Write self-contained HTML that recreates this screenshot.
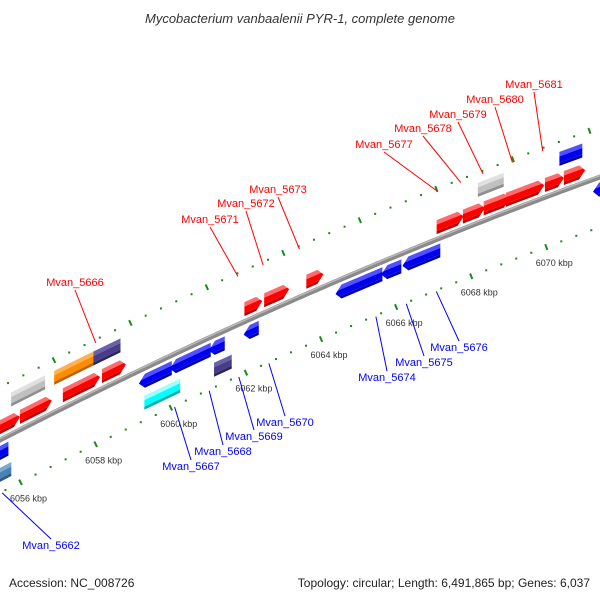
<!DOCTYPE html>
<html><head><meta charset="utf-8"><style>
html,body{margin:0;padding:0;background:#fff;}
svg{display:block;font-family:"Liberation Sans",sans-serif;}
</style></head><body>
<svg id="map" width="600" height="600" viewBox="0 0 600 600" xmlns="http://www.w3.org/2000/svg">
<text x="300" y="23" text-anchor="middle" font-size="13" font-style="italic" fill="#333">Mycobacterium vanbaalenii PYR-1, complete genome</text>
<text x="9" y="587" font-size="12" fill="#222">Accession: NC_008726</text>
<text x="590" y="587" text-anchor="end" font-size="12" fill="#222">Topology: circular; Length: 6,491,865 bp; Genes: 6,037</text>
<g id="ticks"></g><g id="backbone"></g><g id="genes"></g><g id="labels"></g>
</svg>
<script>
// gene data (kbp)
const geneStart = [6055.3,6056.69,6057.82,6058.85,6062.60,6063.12,6064.23,6067.66,6068.35,6068.90,6069.48,6070.51,6071.01,
  6056.69,6057.82,6058.85,6068.93,6071.07,
  6055.3,6059.56,6060.38,6061.41,6062.33,6064.76,6065.97,6066.53,6071.57,
  6055.2,6059.48,6061.33];
const geneEnd = [6056.69,6057.53,6058.80,6059.48,6063.07,6063.78,6064.68,6068.37,6068.93,6069.59,6070.49,6071.01,6071.57,
  6057.58,6058.88,6059.56,6069.61,6071.67,
  6056.11,6060.43,6061.46,6061.83,6062.73,6066.00,6066.50,6067.53,6072.3,
  6055.95,6060.43,6061.80];
const geneLane = [1,1,1,1,1,1,1,1,1,1,1,1,1, 2,2,2,2,2, -1,-1,-1,-1,-1,-1,-1,-1,-1, -2,-2,-2];
const geneKind = ['fwd','fwd','fwd','fwd','fwd','fwd','fwd','fwd','fwd','fwd','fwd','fwd','fwd',
  'gray','orange','purple','gray','bluebox',
  'rev','rev','rev','rev','rev','rev','rev','rev','rev',
  'steel','cyan','purple'];
const tickMajor = [6054,6056,6058,6060,6062,6064,6066,6068,6070,6072];
const tickLabels = ['6054 kbp','6056 kbp','6058 kbp','6060 kbp','6062 kbp','6064 kbp','6066 kbp','6068 kbp','6070 kbp','6072 kbp'];
const labelNames = ['Mvan_5666','Mvan_5671','Mvan_5672','Mvan_5673','Mvan_5677','Mvan_5678','Mvan_5679','Mvan_5680','Mvan_5681',
  'Mvan_5662','Mvan_5667','Mvan_5668','Mvan_5669','Mvan_5670','Mvan_5674','Mvan_5675','Mvan_5676'];
const labelPos = [6059.06,6062.78,6063.44,6064.39,6068.01,6068.61,6069.19,6069.96,6070.75,
  6055.5,6060.09,6061.01,6061.80,6062.60,6065.45,6066.26,6067.06];
const labelStrand = [1,1,1,1,1,1,1,1,1,-1,-1,-1,-1,-1,-1,-1,-1];
const labelTextX = [75,210,246,278,384,423,458,495,534, 51,191,223,254,285,387,424,459];
const labelTextY = [286,223,207,193,148,132,118,103,88, 549,470,455,440,426,381,366,351];

const colors = {fwd:['#ff6a6a','#ff0000','#c00000'],rev:['#5050ff','#0000f0','#0000a8'],
  gray:['#e0e0e0','#c0c0c0','#8f8f8f'],orange:['#ffb050','#ff8c00','#c06000'],
  purple:['#6a62a8','#483d8b','#2c255a'],bluebox:['#5050ff','#0000f0','#0000a8'],
  steel:['#7aa8d4','#4682b4','#2c5a80'],cyan:['#9fffff','#00ffff','#00b0b0']};
const NS='http://www.w3.org/2000/svg';
function bxOf(p){return -1+(p-6056)*37.9;}
function pt(p,d){const x=bxOf(p);const y=440-0.515*x+0.0001278*x*x;const dy=-0.515+2*0.0001278*x;const n=Math.hypot(1,dy);return [x+(-dy/n)*d,y+(1/n)*d];}
function mk(tag,attrs,parent){const e=document.createElementNS(NS,tag);for(const k in attrs)e.setAttribute(k,attrs[k]);parent.appendChild(e);return e;}
// backbone
const bb=document.getElementById('backbone');
let pts=[],pts2=[];
for(let p=6054.5;p<=6072.5;p+=0.1){pts.push(pt(p,0).join(','));pts2.push(pt(p,-1.3).join(','));}
const bl=mk('polyline',{points:pts.join(' '),fill:'none',stroke:'#8a8a8a','stroke-width':5},bb);


const bl2=mk('polyline',{points:pts2.join(' '),fill:'none',stroke:'#b8b8b8','stroke-width':1.5},bb);


// ticks
const tg=document.getElementById('ticks');
for(let i=0;i<tickMajor.length;i++){
  for(const d of [47,-47]){
    const a=pt(tickMajor[i],d-3),b=pt(tickMajor[i],d+3);
    const t=mk('line',{x1:a[0],y1:a[1],x2:b[0],y2:b[1],stroke:'#178a17','stroke-width':2},tg);
    
    
    if(i<tickMajor.length-1){for(let k=1;k<5;k++){const c=pt(tickMajor[i]+k*0.4,d);
      const m=mk('rect',{x:c[0]-1,y:c[1]-1,width:2,height:2,fill:'#178a17'},tg);
      
      }}
  }
  const c=pt(tickMajor[i],47);
  const tl=mk('text',{x:c[0]+8,y:c[1]+19,'text-anchor':'middle','font-size':9,fill:'#333'},tg);
  tl.textContent=tickLabels[i];
  
  
}
// genes: centre line follows normal offset, ends vertical, bevel bands
const gg=document.getElementById('genes');
const H=14, HH=H/2, A=6/37.9;
for(let i=0;i<geneStart.length;i++){
  const lane=geneLane[i];const d=lane===1?-11.5:lane===2?-31:lane===-1?11.5:31;
  const s=geneStart[i],e=geneEnd[i],k=geneKind[i],c=colors[k];
  const len=e-s, a=Math.min(A,len);
  const P=(p,v)=>{const q=pt(p,d);return [q[0],q[1]+v];};
  // boundary position at vertical offset v
  const rightAt=v=>k==='fwd'?e-a*Math.abs(v)/HH:e;
  const leftAt=v=>k==='rev'?s+a*Math.abs(v)/HH:s;
  const band=(v1,v2)=>{const vs=[v1];if(v1<0&&v2>0)vs.push(0);vs.push(v2);
    const r=vs.map(v=>P(rightAt(v),v));const l=vs.slice().reverse().map(v=>P(leftAt(v),v));
    return r.concat(l).map(q=>q.join(',')).join(' ');};
  const g=mk('g',{},gg);
  
  
  mk('polygon',{points:band(-HH,-HH+4.5),fill:c[0]},g);
  mk('polygon',{points:band(-HH+4.5,HH-3),fill:c[1]},g);
  mk('polygon',{points:band(HH-3,HH),fill:c[2]},g);
}
// labels
const lg=document.getElementById('labels');
for(let i=0;i<labelNames.length;i++){
  const fwd=labelStrand[i]===1;const col=fwd?'#ff0000':'#0000ff';
  const g=pt(labelPos[i],fwd?-44:48);
  const ly=fwd?labelTextY[i]+4:labelTextY[i]-10;
  const ln=mk('line',{x1:labelTextX[i],y1:ly,x2:g[0],y2:g[1],stroke:col,'stroke-width':1},lg);
  
  
  const t=mk('text',{x:labelTextX[i],y:labelTextY[i],'text-anchor':'middle','font-size':11,fill:col},lg);
  t.textContent=labelNames[i];
  
  
}
</script>
</body></html>
